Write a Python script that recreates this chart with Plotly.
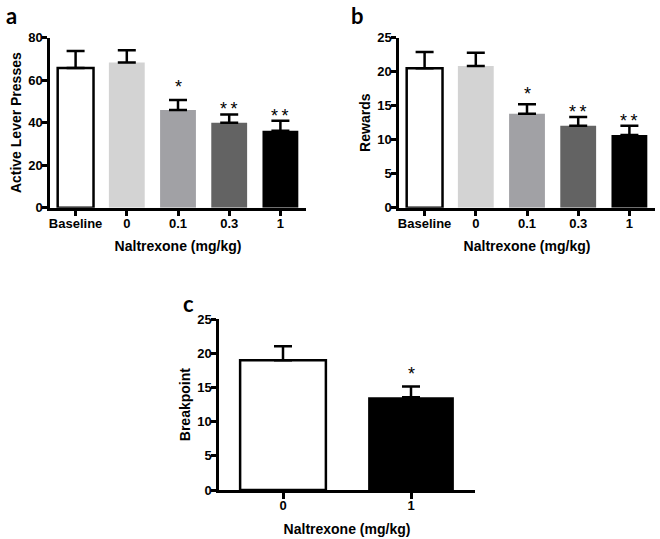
import plotly.graph_objects as go

# ---- data ----
cats_ab = ["Baseline", "0", "0.1", "0.3", "1"]
lever_mean = [65.8, 68.3, 46.0, 40.0, 36.2]
lever_sem = [7.9, 5.8, 4.7, 3.9, 4.7]
rewards_mean = [20.5, 20.85, 13.8, 12.05, 10.7]
rewards_sem = [2.4, 1.95, 1.4, 1.3, 1.35]
cats_c = ["0", "1"]
breakpoint_mean = [19.0, 13.6]
breakpoint_sem = [2.05, 1.55]
stars_ab = ["", "", "*", "**", "**"]
stars_c = ["", "*"]

colors_ab = ["#ffffff", "#d3d3d3", "#a1a1a5", "#636363", "#000000"]
lines_ab = [2.5, 0, 0, 0, 0]
colors_c = ["#ffffff", "#000000"]
lines_c = [2.5, 0]

FONT = "Liberation Sans, Arial, sans-serif"

fig = go.Figure()

def add_bars(xa, ya, cats, means, sems, colors, lw, width):
    fig.add_trace(go.Bar(
        x=list(range(len(cats))), y=means, xaxis=xa, yaxis=ya, width=width,
        marker=dict(color=colors, line=dict(color="black", width=lw)),
        error_y=dict(type="data", array=sems, arrayminus=[0] * len(sems),
                     symmetric=False, color="black", thickness=2.5, width=9),
        showlegend=False, hoverinfo="skip"))

add_bars("x", "y", cats_ab, lever_mean, lever_sem, colors_ab, lines_ab, 0.7)
add_bars("x2", "y2", cats_ab, rewards_mean, rewards_sem, colors_ab, lines_ab, 0.7)
add_bars("x3", "y3", cats_c, breakpoint_mean, breakpoint_sem, colors_c, lines_c, 0.67)

def xax(domain, anchor, cats):
    return dict(domain=domain, anchor=anchor, showline=True, linecolor="black",
                linewidth=2.5, ticks="outside", ticklen=6, tickwidth=2.5,
                tickcolor="black", showgrid=False, zeroline=False,
                range=[-0.5, len(cats) - 0.5],
                tickmode="array", tickvals=list(range(len(cats))), ticktext=cats,
                ticklabelstandoff=-4,
                tickfont=dict(family=FONT, size=13, color="black", weight="bold"),
                title=dict(text="<b>Naltrexone (mg/kg)</b>",
                           font=dict(family=FONT, size=14, color="black"), standoff=12),
                automargin=False, fixedrange=True)

def yax(domain, anchor, rng, dtick, title):
    return dict(domain=domain, anchor=anchor, range=rng, dtick=dtick,
                showline=True, linecolor="black", linewidth=2.5, ticks="outside",
                ticklen=5, tickwidth=2.5, tickcolor="black", showgrid=False,
                zeroline=False, ticklabelstandoff=-3,
                tickfont=dict(family=FONT, size=13, color="black", weight="bold"),
                title=dict(text="<b>" + title + "</b>",
                           font=dict(family=FONT, size=14, color="black"), standoff=4),
                automargin=False, fixedrange=True)

W, H = 660, 539
def dx(a, b):
    return [a / W, b / W]
def dy(top, bot):
    return [1 - bot / H, 1 - top / H]

fig.update_layout(
    width=W, height=H, margin=dict(l=0, r=0, t=0, b=0),
    paper_bgcolor="white", plot_bgcolor="white",
    xaxis=xax(dx(50, 306), "y", cats_ab),
    yaxis=yax(dy(37.7, 207.7), "x", [0, 80], 20, "Active Lever Presses"),
    xaxis2=xax(dx(399, 655), "y2", cats_ab),
    yaxis2=yax(dy(37.7, 207.7), "x2", [0, 25], 5, "Rewards"),
    xaxis3=xax(dx(219, 475), "y3", cats_c),
    yaxis3=yax(dy(319.3, 490), "x3", [0, 25], 5, "Breakpoint"),
)

anns = []
def add_stars(xr, yr, means, sems, stars, single_shift):
    for i, (m, s, st) in enumerate(zip(means, sems, stars)):
        if st:
            anns.append(dict(x=i, y=m + s, xref=xr, yref=yr,
                             text="\u2009".join(st),
                             showarrow=False, yanchor="bottom",
                             yshift=single_shift if len(st) == 1 else -7,
                             font=dict(family=FONT, size=18, color="black")))

add_stars("x", "y", lever_mean, lever_sem, stars_ab, 1)
add_stars("x2", "y2", rewards_mean, rewards_sem, stars_ab, -2)
add_stars("x3", "y3", breakpoint_mean, breakpoint_sem, stars_c, 1)

for letter, x, y in [("a", 11, 16), ("b", 357, 15), ("c", 188, 303)]:
    anns.append(dict(x=x / W, y=1 - y / H, xref="paper", yref="paper",
                     text="<b>" + letter + "</b>", showarrow=False,
                     xanchor="center", yanchor="middle",
                     font=dict(family="Lato, Carlito, sans-serif", size=22, color="black")))

fig.update_layout(annotations=anns)
fig.write_html("out.html", config={"displayModeBar": False},
               post_script="document.body.style.margin='0px';document.body.style.overflow='hidden';")
